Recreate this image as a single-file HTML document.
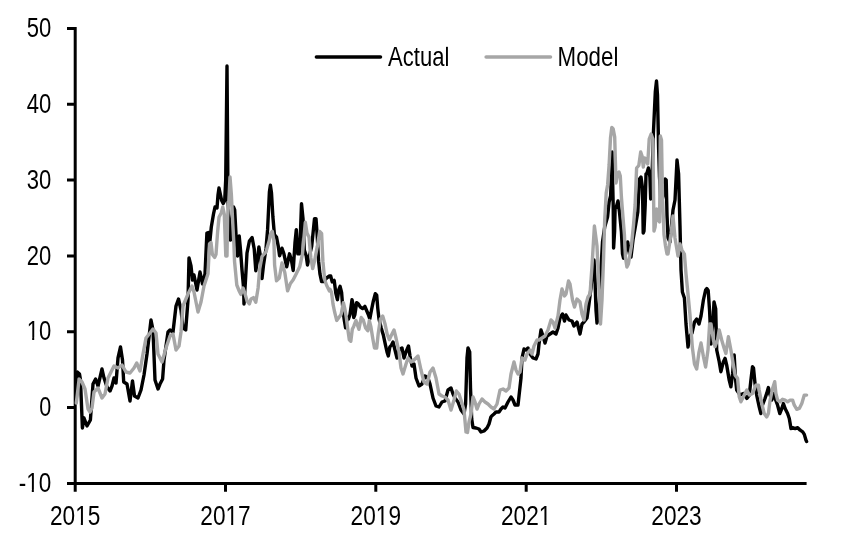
<!DOCTYPE html>
<html><head><meta charset="utf-8"><style>
html,body{margin:0;padding:0;background:#fff;width:852px;height:539px;overflow:hidden}
svg{display:block;will-change:transform}
text{font-family:"Liberation Sans",sans-serif;font-size:27.5px;fill:#000}
</style></head><body>
<svg width="852" height="539" viewBox="0 0 852 539">
<g stroke="#000" stroke-width="3" fill="none" stroke-linecap="butt">
<path d="M75.2,27 V483.4 H806.6"/>
<path d="M67,28.4 H75 M67,104.2 H75 M67,180 H75 M67,255.9 H75 M67,331.7 H75 M67,407.6 H75 M67,483.4 H75"/>
<path d="M75.2,483 V491.7 M225.5,483 V491.7 M375.8,483 V491.7 M526.2,483 V491.7 M676.5,483 V491.7"/>
</g>
<g fill="none" stroke-linejoin="round" stroke-linecap="round">
<path d="M76.3,399.0 L77.3,372.0 L79.5,374.0 L80.5,380.0 L82.4,428.0 L84.0,418.0 L87.0,426.0 L90.4,420.0 L93.0,384.0 L95.6,379.0 L98.0,386.0 L102.0,369.0 L104.0,378.0 L107.0,387.0 L110.0,391.0 L112.0,386.0 L114.0,378.0 L116.0,383.0 L118.0,358.0 L120.5,347.0 L122.5,360.0 L123.7,382.0 L127.0,384.0 L130.0,401.0 L132.5,381.0 L134.5,396.0 L138.0,398.0 L141.0,390.0 L144.0,375.0 L147.0,354.0 L151.0,320.0 L153.0,330.0 L155.0,380.0 L158.0,389.0 L160.0,384.0 L162.6,379.0 L164.0,360.0 L168.0,332.0 L170.0,330.0 L173.0,332.0 L176.0,306.0 L178.5,299.0 L181.0,310.0 L183.0,328.0 L185.7,330.0 L188.0,300.0 L189.0,258.0 L191.0,266.0 L192.5,280.0 L194.0,275.0 L197.0,290.0 L200.0,272.0 L202.5,284.0 L205.0,274.0 L206.9,233.0 L208.4,232.5 L209.8,242.0 L211.3,227.0 L213.5,214.0 L215.0,207.0 L217.0,208.0 L218.0,195.0 L219.0,188.0 L220.5,195.0 L221.7,200.6 L223.2,203.6 L224.7,200.6 L225.7,180.0 L227.0,66.0 L228.0,200.0 L229.4,229.0 L230.5,240.0 L232.4,217.0 L233.5,207.0 L234.7,210.0 L236.2,238.0 L237.5,256.0 L239.2,236.0 L240.5,250.0 L242.0,270.0 L243.6,288.0 L244.0,304.0 L245.5,280.0 L247.0,253.0 L249.4,241.0 L252.1,237.6 L254.2,248.7 L255.8,270.7 L257.3,261.3 L258.9,247.0 L260.5,256.5 L262.0,278.6 L263.6,264.4 L266.0,248.7 L267.6,229.7 L269.4,192.0 L270.4,185.2 L271.5,193.0 L272.9,217.0 L274.4,234.7 L276.5,237.1 L278.3,246.4 L279.6,255.7 L282.0,248.2 L283.9,253.8 L286.7,266.8 L289.5,253.8 L291.3,259.4 L293.2,270.5 L295.0,242.7 L296.3,229.7 L297.8,253.8 L299.7,253.8 L301.5,203.7 L303.0,218.6 L304.3,250.0 L306.2,255.7 L307.5,265.0 L309.0,257.5 L311.7,246.4 L314.5,218.6 L316.0,218.6 L317.3,237.1 L318.6,261.2 L320.0,274.2 L321.6,281.6 L323.8,281.6 L326.6,278.0 L329.4,276.0 L330.7,276.0 L332.2,281.9 L334.2,280.4 L335.9,293.7 L337.4,299.7 L338.9,289.3 L340.1,286.3 L341.6,292.3 L342.6,305.6 L344.1,319.0 L345.6,327.9 L347.1,317.5 L348.5,319.0 L350.0,314.5 L352.0,299.7 L353.0,304.1 L353.7,317.5 L354.9,314.5 L356.7,302.6 L358.5,304.1 L360.4,307.1 L362.6,308.6 L364.9,306.4 L366.4,310.0 L368.3,314.5 L369.8,319.0 L371.5,310.0 L373.3,301.2 L375.3,293.7 L376.7,295.2 L377.8,308.6 L379.0,319.0 L381.2,327.9 L383.4,335.3 L385.6,345.7 L387.0,352.0 L388.3,356.0 L389.8,347.0 L391.5,345.0 L393.0,342.0 L397.0,358.0 L399.0,350.0 L402.0,348.0 L404.0,358.0 L406.0,352.0 L408.5,346.0 L410.0,356.0 L412.0,366.0 L414.0,364.0 L416.0,378.0 L419.0,386.0 L422.0,384.0 L425.0,376.0 L428.0,378.0 L430.0,384.0 L433.0,398.0 L436.0,406.0 L439.0,407.0 L442.0,402.0 L445.0,401.0 L448.0,390.0 L451.0,388.0 L453.0,394.0 L455.0,398.0 L458.0,402.0 L461.0,410.0 L464.0,414.0 L465.6,404.0 L467.0,358.0 L468.0,348.0 L469.7,352.0 L470.5,388.0 L471.7,419.0 L473.0,427.5 L476.0,428.0 L479.0,429.0 L481.0,432.0 L484.0,431.0 L487.0,428.0 L489.0,424.0 L490.9,417.0 L491.7,416.0 L494.0,414.0 L496.0,412.0 L499.0,412.0 L501.0,409.0 L503.0,407.0 L505.0,408.0 L508.0,402.0 L511.0,397.0 L513.0,400.0 L515.0,405.0 L518.0,405.0 L519.0,396.0 L521.0,378.0 L522.0,358.0 L524.0,349.0 L526.0,350.0 L528.0,348.0 L530.0,354.0 L533.0,358.0 L536.0,359.0 L538.0,354.0 L539.0,344.0 L541.0,330.0 L543.0,336.0 L545.0,343.0 L547.0,336.0 L550.0,334.0 L553.0,332.0 L556.0,334.0 L558.0,328.0 L560.0,318.0 L562.5,314.0 L564.5,321.0 L566.0,315.0 L569.0,320.0 L572.0,321.0 L574.0,326.0 L577.0,322.0 L580.0,334.0 L582.0,324.0 L584.0,322.0 L587.0,318.0 L589.0,304.0 L591.0,288.0 L592.5,270.0 L594.0,260.0 L595.0,280.0 L596.0,310.0 L597.0,323.0 L598.5,316.0 L600.0,290.0 L601.0,268.6 L602.5,242.0 L604.7,227.0 L607.6,216.7 L609.1,202.0 L610.6,196.0 L611.5,175.0 L612.1,152.0 L612.5,175.0 L613.2,205.0 L613.6,248.0 L614.6,231.5 L615.1,208.0 L616.5,206.3 L618.0,201.0 L619.5,212.3 L621.4,231.5 L622.5,253.8 L623.5,258.2 L625.0,257.0 L627.7,242.0 L628.9,249.3 L629.9,252.3 L631.0,257.0 L633.0,240.0 L635.8,224.0 L637.8,212.0 L639.5,179.0 L641.0,177.0 L642.5,188.0 L643.2,233.0 L644.0,231.0 L645.2,205.0 L646.0,174.0 L647.0,173.0 L648.4,168.0 L649.9,177.0 L650.7,199.0 L651.4,197.0 L653.4,133.0 L655.3,92.0 L656.5,81.0 L657.5,95.0 L658.6,148.0 L659.5,177.0 L660.5,195.0 L662.0,200.0 L663.5,195.0 L665.1,179.0 L666.2,180.0 L667.0,215.0 L668.0,238.0 L670.0,242.0 L673.0,210.0 L675.0,200.0 L677.0,160.0 L678.6,174.0 L680.0,226.0 L681.0,270.0 L682.4,292.0 L684.4,298.0 L686.0,324.0 L688.0,347.0 L690.0,336.0 L692.0,333.0 L694.5,322.0 L696.7,319.0 L699.0,324.0 L701.0,316.0 L703.4,300.0 L705.6,290.0 L706.8,288.5 L708.2,290.5 L709.6,311.0 L711.0,344.0 L712.8,325.0 L714.0,302.0 L715.7,309.0 L716.7,350.0 L719.2,361.7 L720.9,371.7 L723.4,361.7 L725.1,358.4 L726.7,365.1 L729.2,380.1 L730.9,386.8 L732.6,373.4 L734.2,355.0 L735.4,378.0 L736.7,390.1 L740.1,395.1 L743.4,393.4 L746.8,398.4 L749.3,395.1 L750.9,380.1 L752.5,366.7 L753.5,368.0 L755.0,383.4 L756.7,395.1 L759.2,406.8 L760.9,413.5 L762.5,405.0 L765.0,398.5 L766.7,393.4 L768.4,387.6 L769.8,394.0 L771.7,400.1 L773.4,393.4 L775.1,398.5 L777.6,405.2 L779.8,413.5 L781.8,408.5 L783.4,403.5 L785.1,408.5 L787.6,413.5 L789.3,418.5 L791.0,428.6 L792.6,427.7 L795.2,428.6 L797.7,427.7 L800.2,430.2 L802.7,431.9 L804.3,434.4 L806.0,440.3 L806.6,441.5" stroke="#000" stroke-width="3.4"/>
<path d="M76.3,403.0 L77.5,393.0 L79.0,380.0 L79.0,379.0 L82.0,382.0 L85.0,389.0 L88.0,409.0 L90.0,412.0 L92.0,408.0 L94.0,392.0 L98.0,388.0 L102.0,398.0 L105.0,394.0 L108.0,378.0 L111.0,372.0 L114.0,366.0 L118.0,368.0 L122.0,365.0 L126.0,372.0 L130.0,373.0 L134.0,368.0 L136.7,363.0 L140.0,371.0 L143.0,354.0 L146.0,338.0 L150.0,333.0 L153.0,329.0 L156.0,333.0 L158.0,354.0 L162.0,362.0 L166.0,348.0 L170.0,336.0 L173.0,334.0 L176.0,350.0 L179.0,346.0 L181.0,332.0 L183.0,306.0 L188.0,294.0 L192.0,286.0 L194.0,292.0 L198.0,312.0 L201.0,302.0 L204.0,286.0 L208.0,273.7 L209.5,244.0 L211.0,242.5 L212.4,254.4 L214.7,257.4 L216.0,254.4 L217.6,232.0 L219.0,217.3 L221.3,212.8 L222.8,207.0 L224.3,214.3 L225.8,256.0 L227.0,256.0 L227.6,217.0 L228.8,202.0 L230.0,177.0 L231.4,195.0 L232.8,224.0 L233.9,244.0 L234.5,261.0 L236.8,285.0 L239.2,291.0 L240.8,294.4 L243.1,288.0 L244.7,292.8 L247.0,300.7 L249.4,303.9 L251.0,299.0 L253.4,297.6 L255.8,302.3 L258.1,288.0 L259.7,269.0 L262.0,256.5 L266.0,251.8 L269.2,240.8 L270.5,234.0 L272.3,231.3 L273.9,240.8 L274.6,265.0 L276.5,280.7 L279.3,278.0 L282.0,263.0 L284.8,272.4 L287.6,290.9 L290.4,283.5 L293.2,279.8 L296.0,274.2 L299.7,266.8 L302.5,253.8 L305.3,222.3 L307.1,233.4 L309.0,237.1 L310.8,257.5 L312.7,268.6 L314.5,261.2 L317.3,246.4 L319.7,231.5 L321.6,233.4 L322.9,261.2 L324.7,279.8 L326.6,285.3 L329.4,290.9 L330.0,289.3 L331.5,292.3 L333.0,304.1 L334.5,311.5 L336.7,320.4 L338.9,317.5 L341.1,314.5 L343.4,302.6 L344.8,308.6 L346.3,317.5 L347.8,329.3 L349.3,339.7 L350.8,341.2 L352.3,329.3 L353.7,326.4 L356.0,320.4 L357.4,324.9 L358.9,329.3 L361.2,317.5 L363.4,320.4 L365.6,327.9 L367.8,330.8 L369.3,320.4 L370.8,326.4 L373.0,339.7 L374.5,348.0 L376.7,348.0 L378.2,333.8 L380.4,319.0 L382.7,316.0 L384.9,323.4 L387.1,333.8 L389.3,339.7 L391.0,336.0 L394.0,330.0 L396.0,338.0 L399.0,352.0 L401.0,368.0 L403.0,374.0 L406.0,364.0 L408.0,358.0 L411.0,362.0 L414.0,360.0 L418.0,356.0 L421.0,370.0 L424.0,382.0 L427.0,384.0 L430.0,372.0 L433.0,368.0 L436.0,378.0 L439.0,394.0 L442.0,396.0 L445.0,397.0 L448.0,400.0 L451.0,410.0 L454.0,400.0 L456.4,391.0 L459.0,394.0 L461.6,402.0 L464.0,410.0 L466.0,432.0 L467.5,432.5 L469.0,422.0 L471.0,414.0 L473.0,397.0 L475.0,402.0 L477.0,409.0 L479.0,404.0 L482.0,399.0 L485.0,402.0 L488.0,404.0 L491.0,407.0 L494.0,409.0 L497.0,404.0 L500.0,390.0 L503.0,389.0 L506.0,391.0 L509.0,388.0 L511.0,374.0 L514.0,362.0 L516.0,370.0 L518.0,374.0 L520.0,372.0 L522.0,358.0 L525.0,360.0 L527.0,354.0 L530.0,350.0 L532.0,354.0 L534.0,346.0 L537.0,340.0 L539.0,340.0 L542.0,338.0 L545.0,336.0 L548.0,330.0 L551.0,320.0 L553.0,322.0 L555.0,328.0 L558.0,316.0 L560.0,300.0 L562.0,289.0 L564.5,296.0 L566.0,294.0 L568.5,281.0 L570.0,284.0 L572.5,300.0 L574.5,307.0 L577.0,299.0 L580.0,302.0 L582.0,314.0 L584.0,320.0 L586.0,304.0 L588.0,297.0 L590.0,294.0 L592.0,266.0 L594.4,226.0 L597.0,246.0 L599.0,290.0 L600.5,324.0 L602.0,300.0 L603.5,260.0 L604.7,220.0 L606.2,193.0 L607.6,185.0 L609.1,165.0 L610.5,138.0 L611.8,127.5 L613.2,129.0 L614.7,137.0 L616.0,183.0 L617.6,174.0 L619.0,172.0 L620.3,176.0 L621.4,197.0 L622.0,205.0 L623.2,220.0 L624.4,234.5 L625.4,257.0 L626.9,267.0 L628.4,264.0 L629.9,255.0 L631.4,246.0 L633.6,224.0 L635.1,205.0 L636.6,168.0 L638.8,165.5 L640.7,152.0 L642.2,156.6 L643.3,167.0 L644.7,158.0 L646.2,159.5 L647.7,164.0 L649.2,139.0 L651.1,134.0 L652.9,139.0 L654.0,231.0 L655.1,227.0 L656.6,209.0 L658.1,220.0 L659.6,222.0 L660.3,136.0 L661.5,140.0 L662.5,197.0 L664.0,234.5 L665.5,246.0 L667.0,254.0 L668.0,254.0 L671.0,234.0 L673.0,216.0 L675.0,238.0 L677.0,250.0 L678.0,256.0 L680.0,244.0 L682.0,250.0 L684.4,254.0 L686.0,274.0 L688.0,294.0 L690.0,315.0 L692.3,347.0 L694.5,364.0 L696.7,369.0 L699.0,352.0 L701.0,343.0 L703.5,357.0 L705.6,367.0 L708.0,350.0 L709.6,324.0 L711.0,324.0 L713.4,340.0 L715.0,346.7 L717.5,340.0 L719.2,330.0 L721.7,340.0 L724.2,348.4 L725.9,353.4 L728.4,336.7 L730.9,350.0 L733.1,363.4 L735.1,375.1 L737.6,378.4 L739.2,396.8 L740.9,401.8 L743.4,396.8 L746.8,390.1 L749.3,395.1 L752.6,393.4 L755.9,385.1 L758.4,385.1 L759.2,390.1 L761.7,403.5 L764.2,413.5 L766.7,416.9 L768.4,413.5 L770.1,400.1 L772.6,388.4 L774.7,381.7 L775.9,393.4 L777.6,400.1 L780.1,401.8 L782.6,399.3 L785.1,400.1 L787.6,401.8 L790.1,400.1 L792.6,400.1 L794.3,405.2 L796.8,409.3 L799.3,408.5 L801.8,403.5 L804.3,395.1 L806.6,395.1" stroke="#A6A6A6" stroke-width="3.4"/>
</g>
<g stroke-linecap="round" stroke-width="3.5">
<path d="M316.4,57 H380.5" stroke="#000"/>
<path d="M486.1,57 H550.5" stroke="#A6A6A6"/>
</g>
<text x="51.2" y="36.6" textLength="24.5" lengthAdjust="spacingAndGlyphs" text-anchor="end">50</text>
<text x="51.2" y="113.2" textLength="24.5" lengthAdjust="spacingAndGlyphs" text-anchor="end">40</text>
<text x="51.2" y="189.05" textLength="24.5" lengthAdjust="spacingAndGlyphs" text-anchor="end">30</text>
<text x="51.2" y="264.95" textLength="24.5" lengthAdjust="spacingAndGlyphs" text-anchor="end">20</text>
<text x="51.2" y="339.8" textLength="24.5" lengthAdjust="spacingAndGlyphs" text-anchor="end">10</text>
<text x="51.2" y="415.9" textLength="12" lengthAdjust="spacingAndGlyphs" text-anchor="end">0</text>
<text x="51.2" y="491.6" textLength="32.5" lengthAdjust="spacingAndGlyphs" text-anchor="end">-10</text>
<text x="75.2" y="525" textLength="50.4" lengthAdjust="spacingAndGlyphs" text-anchor="middle">2015</text>
<text x="225.5" y="525" textLength="50.4" lengthAdjust="spacingAndGlyphs" text-anchor="middle">2017</text>
<text x="375.8" y="525" textLength="50.4" lengthAdjust="spacingAndGlyphs" text-anchor="middle">2019</text>
<text x="526.2" y="525" textLength="50.4" lengthAdjust="spacingAndGlyphs" text-anchor="middle">2021</text>
<text x="676.5" y="525" textLength="50.4" lengthAdjust="spacingAndGlyphs" text-anchor="middle">2023</text>
<text x="388.1" y="65.8" textLength="61.2" lengthAdjust="spacingAndGlyphs" text-anchor="start">Actual</text>
<text x="557.6" y="65.8" textLength="60.8" lengthAdjust="spacingAndGlyphs" text-anchor="start">Model</text>
<g fill="#fff"><rect x="27.37" y="337.63" width="4.83" height="3.17"/><rect x="34.20" y="337.63" width="4.65" height="3.17"/><rect x="26.90" y="489.43" width="4.91" height="3.17"/><rect x="33.84" y="489.43" width="4.73" height="3.17"/><rect x="75.91" y="522.83" width="4.94" height="3.17"/><rect x="82.90" y="522.83" width="4.76" height="3.17"/><rect x="226.21" y="522.83" width="4.94" height="3.17"/><rect x="233.20" y="522.83" width="4.76" height="3.17"/><rect x="376.51" y="522.83" width="4.94" height="3.17"/><rect x="383.50" y="522.83" width="4.76" height="3.17"/><rect x="539.51" y="522.83" width="4.94" height="3.17"/><rect x="546.50" y="522.83" width="4.76" height="3.17"/><rect x="443.90" y="42.88" width="5.90" height="3.95"/><rect x="588.10" y="42.88" width="13.43" height="3.95"/><rect x="612.93" y="42.88" width="5.97" height="3.95"/></g>
</svg>
</body></html>
